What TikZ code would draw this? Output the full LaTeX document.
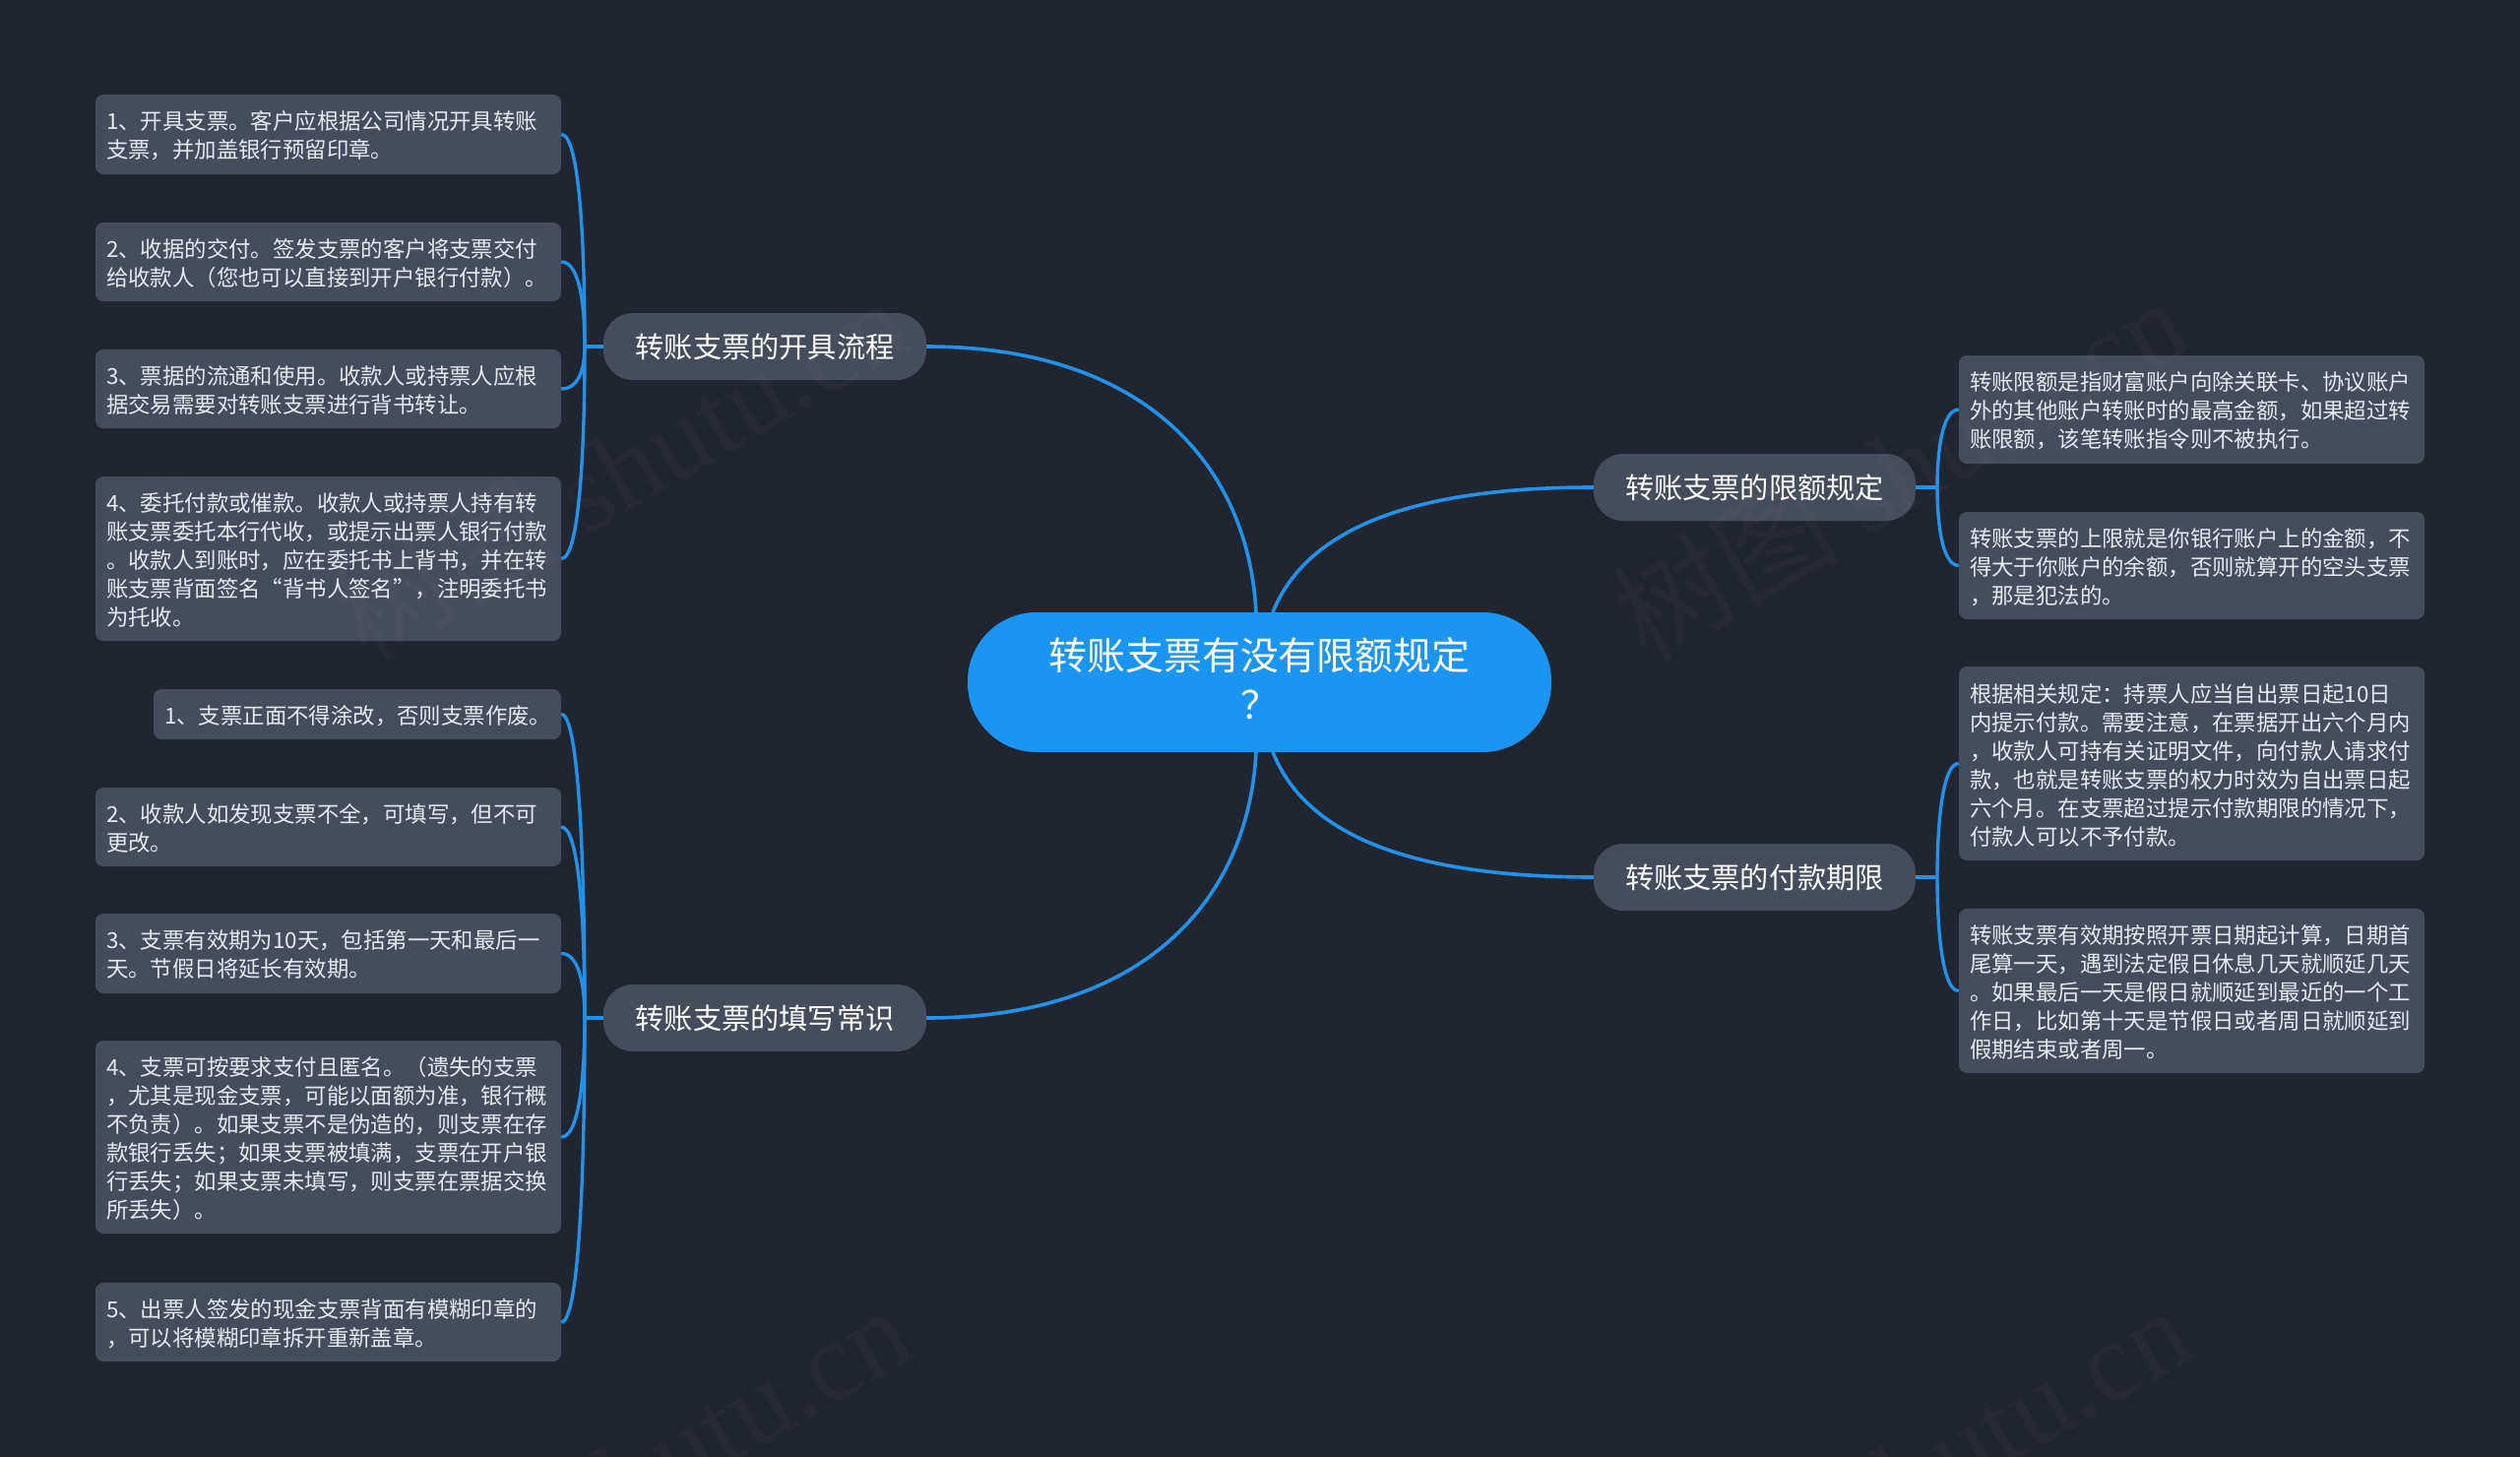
\documentclass[tikz,border=0pt]{standalone}
\usepackage{fontspec}
\setmainfont{Noto Sans CJK SC}
\newfontfamily\wmfont{Liberation Serif}
\definecolor{bgc}{HTML}{212530}
\definecolor{boxc}{HTML}{454C5C}
\definecolor{rootc}{HTML}{1A96F2}
\definecolor{linec}{HTML}{2092EA}
\definecolor{txtc}{HTML}{E6E9EE}
\tikzset{
 leafbox/.style={fill=boxc,rounded corners=8pt,inner xsep=11pt,inner ysep=0pt,align=left,text=txtc,font=\fontsize{22.4pt}{29pt}\selectfont},
 branchbox/.style={fill=boxc,rounded corners=30pt,inner sep=0pt,align=center,text=white,font=\fontsize{29.2pt}{36pt}\selectfont},
 rootbox/.style={fill=rootc,rounded corners=70pt,inner sep=0pt,align=center,text=white,font=\fontsize{38.85pt}{50pt}\selectfont},
 conn/.style={draw=linec,line width=3.4pt},
 mainconn/.style={draw=linec,line width=3.6pt},
 wmark/.style={rotate=30,anchor=base east,inner sep=0pt,text=white,text opacity=0.028,font=\fontsize{115pt}{115pt}\selectfont},
}
\newcommand{\bx}[7]{% style,name,x0,y0,x1,y1,text
 \pgfmathsetmacro{\bw}{#5-#3}\pgfmathsetmacro{\bh}{#6-#4}
 \pgfmathsetmacro{\bcx}{(#3+#5)/2}\pgfmathsetmacro{\bcy}{(#4+#6)/2}
 \node[#1,minimum width=\bw pt,minimum height=\bh pt] (#2) at (\bcx,\bcy) {#7};}
\newcommand{\lf}[6]{% name,x0,y0,x1,y1,text
 \pgfmathsetmacro{\tw}{#4-#2-22}
 \bx{leafbox,text width=\tw pt}{#1}{#2}{#3}{#4}{#5}{\raisebox{-1.5pt}[\height][\depth]{\parbox{\tw pt}{\raggedright #6}}}}
\begin{document}
\begin{tikzpicture}[x=1pt,y=-1pt]
\useasboundingbox[fill=bgc] (0,0) rectangle (2560,1480);
\bx{rootbox}{root}{983}{622}{1576}{764}{\raisebox{4pt}[\height][\depth]{\parbox{560pt}{\centering 转账支票有没有限额规定\\？}}}
\bx{branchbox}{ba}{613}{318}{941}{386}{转账支票的开具流程}
\bx{branchbox}{bb}{613}{1000}{941}{1068}{转账支票的填写常识}
\bx{branchbox}{bc}{1619}{461}{1946}{529}{转账支票的限额规定}
\bx{branchbox}{bd}{1619}{857}{1946}{925}{转账支票的付款期限}
\lf{a1}{97}{96}{570}{177}{1、开具支票。客户应根据公司情况开具转账\\支票，并加盖银行预留印章。}
\lf{a2}{97}{226}{570}{306}{2、收据的交付。签发支票的客户将支票交付\\给收款人（您也可以直接到开户银行付款）。}
\lf{a3}{97}{355}{570}{435}{3、票据的流通和使用。收款人或持票人应根\\据交易需要对转账支票进行背书转让。}
\lf{a4}{97}{484}{570}{651}{4、委托付款或催款。收款人或持票人持有转\\账支票委托本行代收，或提示出票人银行付款\\。收款人到账时，应在委托书上背书，并在转\\账支票背面签名“背书人签名”，注明委托书\\为托收。}
\lf{b1}{156}{700}{570}{751}{1、支票正面不得涂改，否则支票作废。}
\lf{b2}{97}{800}{570}{880}{2、收款人如发现支票不全，可填写，但不可\\更改。}
\lf{b3}{97}{928}{570}{1009}{3、支票有效期为10天，包括第一天和最后一\\天。节假日将延长有效期。}
\lf{b4}{97}{1057}{570}{1253}{4、支票可按要求支付且匿名。（遗失的支票\\，尤其是现金支票，可能以面额为准，银行概\\不负责）。如果支票不是伪造的，则支票在存\\款银行丢失；如果支票被填满，支票在开户银\\行丢失；如果支票未填写，则支票在票据交换\\所丢失）。}
\lf{b5}{97}{1303}{570}{1383}{5、出票人签发的现金支票背面有模糊印章的\\，可以将模糊印章拆开重新盖章。}
\lf{c1}{1990}{361}{2463}{471}{转账限额是指财富账户向除关联卡、协议账户\\外的其他账户转账时的最高金额，如果超过转\\账限额，该笔转账指令则不被执行。}
\lf{c2}{1990}{520}{2463}{629}{转账支票的上限就是你银行账户上的金额，不\\得大于你账户的余额，否则就算开的空头支票\\，那是犯法的。}
\lf{d1}{1990}{677}{2463}{874}{根据相关规定：持票人应当自出票日起10日\\内提示付款。需要注意，在票据开出六个月内\\，收款人可持有关证明文件，向付款人请求付\\款，也就是转账支票的权力时效为自出票日起\\六个月。在支票超过提示付款期限的情况下，\\付款人可以不予付款。}
\lf{d2}{1990}{923}{2463}{1090}{转账支票有效期按照开票日期起计算，日期首\\尾算一天，遇到法定假日休息几天就顺延几天\\。如果最后一天是假日就顺延到最近的一个工\\作日，比如第十天是节假日或者周日就顺延到\\假期结束或者周一。}
\coordinate (ha) at (594,352);
\coordinate (hb) at (594,1034);
\coordinate (hc) at (1968,495);
\coordinate (hd) at (1968,891);
\coordinate (rt) at (1276,622);
\coordinate (rr) at (1293,622);
\coordinate (bt) at (1276,764);
\coordinate (br) at (1293,764);
\draw[mainconn] (rt) .. controls (1268,470) and (1160,352) .. (ba.east);
\draw[mainconn] (bt) .. controls (1268,916) and (1160,1034) .. (bb.east);
\draw[mainconn] (rr) .. controls (1330,530) and (1450,495) .. (bc.west);
\draw[mainconn] (br) .. controls (1330,856) and (1450,891) .. (bd.west);
\draw[conn] (ba.west) -- (ha);
\draw[conn] (bb.west) -- (hb);
\draw[conn] (bc.east) -- (hc);
\draw[conn] (bd.east) -- (hd);
\draw[conn] (a1.east) .. controls +(18,0) and +(0,-110) .. (ha);
\draw[conn] (a2.east) .. controls +(18,0) and +(0,-45) .. (ha);
\draw[conn] (a3.east) .. controls +(18,0) and +(0,22) .. (ha);
\draw[conn] (a4.east) .. controls +(18,0) and +(0,108) .. (ha);
\draw[conn] (b1.east) .. controls +(18,0) and +(0,-155) .. (hb);
\draw[conn] (b2.east) .. controls +(18,0) and +(0,-98) .. (hb);
\draw[conn] (b3.east) .. controls +(18,0) and +(0,-33) .. (hb);
\draw[conn] (b4.east) .. controls +(18,0) and +(0,60) .. (hb);
\draw[conn] (b5.east) .. controls +(18,0) and +(0,155) .. (hb);
\draw[conn] (c1.west) .. controls +(-16,0) and +(0,-40) .. (hc);
\draw[conn] (c2.west) .. controls +(-16,0) and +(0,40) .. (hc);
\draw[conn] (d1.west) .. controls +(-16,0) and +(0,-58) .. (hd);
\draw[conn] (d2.west) .. controls +(-16,0) and +(0,58) .. (hd);
\node[wmark] (w1) at (929,352) {树图 {\wmfont shutu.cn}};
\node[wmark] (w2) at (2229,352) {树图 {\wmfont shutu.cn}};
\node[wmark] (w3) at (933,1377) {树图 {\wmfont shutu.cn}};
\node[wmark] (w4) at (2233,1377) {树图 {\wmfont shutu.cn}};
\end{tikzpicture}
\end{document}
